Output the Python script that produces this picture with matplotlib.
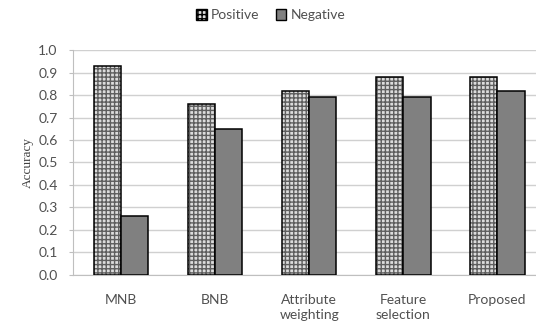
import matplotlib.pyplot as plt
import numpy as np
from matplotlib.patches import Patch

categories = ["MNB", "BNB", "Attribute\nweighting", "Feature\nselection", "Proposed"]
positive = [0.93, 0.76, 0.82, 0.88, 0.88]
negative = [0.26, 0.65, 0.79, 0.79, 0.82]
yticks = [0.0, 0.1, 0.2, 0.3, 0.4, 0.5, 0.6, 0.7, 0.8, 0.9, 1.0]

plt.rcParams['font.family'] = ['Lato', 'DejaVu Sans']
plt.rcParams['hatch.linewidth'] = 1.0

txt = "#505050"
fig = plt.figure(figsize=(5.36, 3.23), dpi=100)
ax = fig.add_axes([0.136, 0.149, 0.864, 0.696])

x = np.arange(len(categories))
w = 0.29

# hatched fill first, then black outline on top
ax.bar(x - w / 2, positive, w, color="#dcdcdc", edgecolor="#5e5e5e", hatch="++++", linewidth=0, zorder=2)
ax.bar(x - w / 2, positive, w, fill=False, edgecolor="black", linewidth=1.1, zorder=3)
ax.bar(x + w / 2, negative, w, color="#808080", edgecolor="black", linewidth=1.1, zorder=3)

ax.set_xlim(-0.51, 4.41)
ax.set_ylim(0, 1.0)
ax.set_yticks(yticks)
ax.set_yticklabels(["%.1f" % t for t in yticks], color=txt, fontsize=10)
ax.set_xticks(x)
ax.set_xticklabels(categories, color=txt, fontsize=10, linespacing=1.25)
ax.tick_params(axis="x", length=0, pad=14)
ax.tick_params(axis="y", length=3, color="#bfbfbf", pad=8)
ax.yaxis.grid(True, color="#d0d0d0", linewidth=1.0, zorder=0)
ax.set_axisbelow(True)

for s in ["top", "right"]:
    ax.spines[s].set_visible(False)
ax.spines["left"].set_color("#bfbfbf")
ax.spines["bottom"].set_color("#bfbfbf")

ax.set_ylabel("Accuracy", family="Liberation Serif", fontsize=9.5, color="#404040", labelpad=3)

handles = [Patch(facecolor="#dcdcdc", edgecolor="black", hatch="++++", label="Positive"),
           Patch(facecolor="#808080", edgecolor="black", label="Negative")]
fig.legend(handles=handles, loc="upper center", bbox_to_anchor=(0.505, 1.01), ncol=2, frameon=False,
           fontsize=10, handlelength=0.75, handleheight=0.75, handletextpad=0.3, columnspacing=1.2,
           labelcolor=txt)

fig.savefig("out.png", dpi=100)
